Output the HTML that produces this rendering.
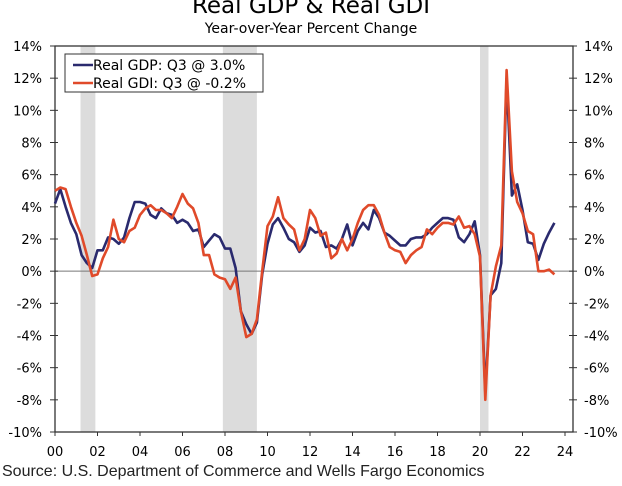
<!DOCTYPE html>
<html><head><meta charset="utf-8"><style>
body{margin:0;background:#fff;width:622px;height:486px;overflow:hidden;font-family:"DejaVu Sans","Liberation Sans",sans-serif}
</style></head><body>
<svg id="c" width="622" height="486" style="position:absolute;left:0;top:0">
<text x="311" y="13" text-anchor="middle" font-size="23">Real GDP &amp; Real GDI</text>
<text x="311" y="33" text-anchor="middle" font-size="14">Year-over-Year Percent Change</text>
<text x="2" y="476" font-size="16" font-family="Liberation Sans,sans-serif" fill="#222">Source: U.S. Department of Commerce and Wells Fargo Economics</text>
<g id="g"></g>
</svg>
<script>
const recessions=[[2001.2,2001.9],[2007.9,2009.5],[2020.0,2020.4]];
const yTicks=[14,12,10,8,6,4,2,0,-2,-4,-6,-8,-10];
const xTickYears=[2000,2002,2004,2006,2008,2010,2012,2014,2016,2018,2020,2022,2024];
const xTickLabels=["00","02","04","06","08","10","12","14","16","18","20","22","24"];
const gdp=[4.2,5.1,4.0,3.0, 2.3,1.0,0.5,0.2, 1.3,1.3,2.1,2.0, 1.7,2.1,3.3,4.3, 4.3,4.2,3.5,3.3, 3.9,3.6,3.5,3.0, 3.2,3.0,2.5,2.6, 1.5,1.9,2.3,2.1, 1.4,1.4,0.2,-2.5, -3.3,-3.9,-3.2,-0.2, 1.7,2.9,3.3,2.7, 2.0,1.8,1.2,1.6, 2.7,2.4,2.5,1.5, 1.6,1.4,2.0,2.9, 1.6,2.5,3.0,2.6, 3.8,3.3,2.4,2.2, 1.9,1.6,1.6,2.0, 2.1,2.1,2.3,2.7, 3.0,3.3,3.3,3.2, 2.1,1.8,2.3,3.1, 1.0,-7.5,-1.5,-1.1, 0.5,12.0,4.7,5.4, 3.8,1.8,1.7,0.7, 1.7,2.4,3.0];
const gdi=[5.0,5.2,5.1,4.0, 3.0,2.2,1.0,-0.3, -0.2,0.8,1.5,3.2, 2.0,1.8,2.5,2.7, 3.5,3.9,4.1,3.8, 3.8,3.6,3.3,4.0, 4.8,4.2,3.9,3.0, 1.0,1.0,-0.2,-0.4, -0.5,-1.1,-0.4,-2.5, -4.1,-3.9,-3.0,0.0, 2.8,3.4,4.6,3.3, 2.9,2.6,1.3,2.0, 3.8,3.3,2.2,2.4, 0.8,1.1,2.0,1.3, 2.0,3.0,3.8,4.1, 4.1,3.5,2.4,1.5, 1.3,1.2,0.5,1.0, 1.3,1.5,2.6,2.3, 2.7,3.0,3.0,2.9, 3.4,2.7,2.8,2.3, 0.9,-8.0,-1.5,0.3, 1.6,12.5,6.2,4.3, 3.6,2.5,2.3,0.0, 0.0,0.1,-0.2];
const L=55,R=573,T=46,B=432;
const x=yr=>L+(yr-2000)*21.25;
const y=v=>B-(v+10)*(B-T)/24;
const ns="http://www.w3.org/2000/svg",g=document.getElementById('g');
function mk(t,a){const e=document.createElementNS(ns,t);for(const k in a)e.setAttribute(k,a[k]);g.appendChild(e);return e;}
recessions.forEach(r=>{const e=mk('rect',{x:x(r[0]),y:T,width:x(r[1])-x(r[0]),height:B-T,fill:'#dcdcdc'});

});
let e=mk('line',{x1:L,x2:R,y1:y(0),y2:y(0),stroke:'#777','stroke-width':1});


e=mk('rect',{x:L,y:T,width:R-L,height:B-T,fill:'none',stroke:'#333','stroke-width':1.3});


yTicks.forEach(v=>{
 mk('line',{x1:L-5,x2:L+3,y1:y(v),y2:y(v),stroke:'#333'});
 mk('line',{x1:R-4,x2:R+4,y1:y(v),y2:y(v),stroke:'#333'});
 let t=mk('text',{x:42,y:y(v)+5,'text-anchor':'end','font-size':13});t.textContent=v+'%';
 
 
 t=mk('text',{x:584,y:y(v)+5,'font-size':13});t.textContent=v+'%';
 
 
});
xTickYears.forEach((yr,i)=>{
 mk('line',{x1:x(yr),x2:x(yr),y1:B,y2:B+4,stroke:'#333'});
 const t=mk('text',{x:x(yr),y:456,'text-anchor':'middle','font-size':13});t.textContent=xTickLabels[i];
 
 
});
function line(d,c,n){const p=d.map((v,i)=>x(2000+i/4).toFixed(1)+','+y(v).toFixed(1)).join(' ');
 const e=mk('polyline',{points:p,fill:'none',stroke:c,'stroke-width':2.6,'stroke-linejoin':'round'});
 
 }
line(gdp,'#2a2a6e','gdp-line');
line(gdi,'#e04a2a','gdi-line');
e=mk('rect',{x:65,y:54,width:198,height:38,fill:'#fff',stroke:'#333'});


mk('line',{x1:73,x2:93,y1:65,y2:65,stroke:'#2a2a6e','stroke-width':2.6});
mk('line',{x1:73,x2:93,y1:83,y2:83,stroke:'#e04a2a','stroke-width':2.6});
let t=mk('text',{x:93,y:70,'font-size':14});t.textContent='Real GDP: Q3 @ 3.0%';


t=mk('text',{x:93,y:88,'font-size':14});t.textContent='Real GDI: Q3 @ -0.2%';


</script>
</body></html>
